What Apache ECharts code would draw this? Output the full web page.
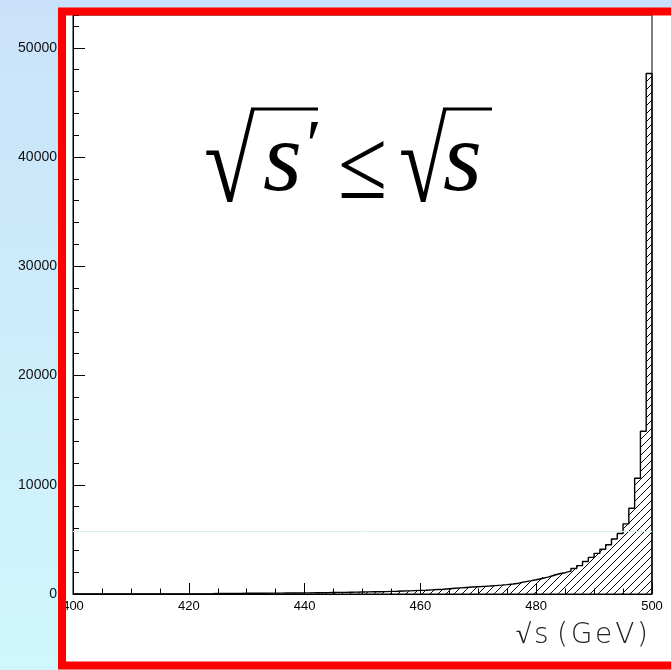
<!DOCTYPE html>
<html>
<head>
<meta charset="utf-8">
<script src="https://cdn.jsdelivr.net/npm/echarts@6/dist/echarts.min.js"></script>
<style>html,body{margin:0;padding:0;}#chart{width:671px;height:670px;}</style>
</head>
<body>
<div id="chart"></div>
<script>
// ---- data ----
var binStart = 400;   // GeV, left edge of first bin
var binWidth = 1;     // GeV
// entries per 1 GeV bin, 400 ... 499
var counts = [
  0,0,0,0,0,0,0,0,0,0,
  0,0,0,0,0,0,0,0,0,0,
  0,0,10,20,50,50,60,60,60,70,
  70,70,70,80,80,80,90,90,90,100,
  100,110,120,130,140,150,150,160,170,180,
  190,200,210,220,240,250,270,290,310,330,
  350,380,410,440,480,520,560,600,640,670,
  700,730,770,810,860,920,990,1110,1200,1300,
  1420,1540,1690,1850,1950,2090,2330,2600,2980,3350,
  3720,4100,4510,5030,5540,6420,7850,10600,14900,47650
];
var xTicks = [400, 420, 440, 460, 480, 500];
var yTicks = [0, 10000, 20000, 30000, 40000, 50000];
var faintLineValue = 5700;
var axisTitle = '\u221A\u200As\u2009\u200A(\u200AG\u200Ae\u200AV\u200A)';

// ---- derived tables ----
var bins = counts.map(function (v, i) {
  var x0 = binStart + i * binWidth;
  return [x0, x0 + binWidth, v];
});
var outline = [[binStart, 0]];
counts.forEach(function (v, i) { outline.push([binStart + i * binWidth, v]); });
var xEnd = binStart + counts.length * binWidth;
outline.push([xEnd, counts[counts.length - 1]]);
outline.push([xEnd, 0]);

// hatch pattern
var hatch = document.createElement('canvas');
hatch.width = 8; hatch.height = 8;
(function () {
  var c = hatch.getContext('2d');
  c.strokeStyle = '#000';
  c.lineWidth = 1;
  c.beginPath();
  c.moveTo(0, 8); c.lineTo(8, 0);
  c.moveTo(-2, 2); c.lineTo(2, -2);
  c.moveTo(6, 10); c.lineTo(10, 6);
  c.stroke();
})();

var chart = echarts.init(document.getElementById('chart'), null, {renderer: 'canvas'});
var SERIF = 'Times New Roman';
function ftxt(x, y, text, size, italic, sx, sy) {
  return {type: 'text', z: 50, x: x, y: y, scaleX: sx || 1, scaleY: sy || 1, style: {
    text: text, fontFamily: SERIF, fontSize: size, fontStyle: italic ? 'italic' : 'normal',
    fill: '#000', verticalAlign: 'middle'}};
}
var option = {
  animation: false,
  grid: {left: 73, right: 19, top: 15, bottom: 76, show: true, borderColor: '#000', borderWidth: 1, backgroundColor: 'transparent'},
  xAxis: {
    type: 'value', min: xTicks[0], max: xTicks[xTicks.length - 1], interval: xTicks[1] - xTicks[0],
    axisLine: {lineStyle: {color: '#000', width: 1}},
    axisTick: {inside: true, length: 11, lineStyle: {color: '#000'}},
    minorTick: {show: true, splitNumber: 4, length: 5.5, lineStyle: {color: '#000'}},
    splitLine: {show: false},
    axisLabel: {color: '#000', fontSize: 13, fontFamily: 'Liberation Sans', margin: 6}
  },
  yAxis: [{
    type: 'value', min: 0, max: 53000, interval: yTicks[1] - yTicks[0],
    axisLine: {show: true, lineStyle: {color: '#000', width: 1}},
    axisTick: {show: true, inside: true, length: 12, lineStyle: {color: '#000'}},
    splitLine: {show: false},
    axisLabel: {color: '#111', fontSize: 14, fontFamily: 'Liberation Sans', margin: 16, showMaxLabel: false,
      formatter: function (v) { return String(v); }}
  }, {
    type: 'value', min: 0, max: 53000, interval: 2000, position: 'left',
    axisLine: {show: false}, axisLabel: {show: false}, splitLine: {show: false},
    axisTick: {show: true, inside: true, length: 6, lineStyle: {color: '#000'}}
  }],
  series: [{
    type: 'custom',
    data: bins,
    encode: {x: [0, 1], y: 2},
    clip: true,
    renderItem: function (params, api) {
      var p0 = api.coord([api.value(0), 0]);
      var p1 = api.coord([api.value(1), api.value(2)]);
      return {
        type: 'rect',
        shape: {x: p0[0], y: p1[1], width: p1[0] - p0[0], height: p0[1] - p1[1]},
        style: {fill: {image: hatch, repeat: 'repeat'}, stroke: null}
      };
    },
    z: 2
  }, {
    type: 'line',
    data: outline,
    step: 'end',
    symbol: 'none',
    lineStyle: {color: '#000', width: 1.4},
    z: 3,
    markLine: {
      silent: true, symbol: 'none', label: {show: false},
      lineStyle: {color: '#d4eef3', width: 1, type: 'solid'},
      data: [{yAxis: faintLineValue}]
    }
  }],
  graphic: [
    {type: 'rect', z: -20, shape: {x: 0, y: 0, width: 671, height: 670},
      style: {fill: new echarts.graphic.LinearGradient(0, 0, 0, 1, [{offset: 0, color: '#cae2f9'}, {offset: 1, color: '#d0f7fd'}])}},
    {type: 'rect', z: -10, shape: {x: 62, y: 11.5, width: 700, height: 654}, style: {fill: '#fff'}},
    // formula  √s′ ≤ √s
    ftxt(204, 170.5, '\u221A', 116, false, 0.8, 1),
    {type: 'line', z: 50, shape: {x1: 251, y1: 109, x2: 318, y2: 109}, style: {stroke: '#000', lineWidth: 3}},
    ftxt(263, 164, 's', 100, true),
    ftxt(302, 150, '\u2032', 70, true),
    ftxt(338, 172, '\u2264', 88, false, 1.02, 1.13),
    ftxt(399, 170.5, '\u221A', 116, false, 0.75, 1),
    {type: 'line', z: 50, shape: {x1: 443, y1: 109, x2: 492, y2: 109}, style: {stroke: '#000', lineWidth: 3}},
    ftxt(443, 164, 's', 100, true),
    // axis title
    {type: 'text', z: 50, x: 648, y: 636, style: {text: axisTitle, fontFamily: 'DejaVu Sans', fontWeight: 200, fontSize: 28,
      fill: '#222', align: 'right', verticalAlign: 'middle'}},
    // red frame
    {type: 'rect', z: 100, shape: {x: 62, y: 11.5, width: 700, height: 654}, style: {fill: null, stroke: '#ff0000', lineWidth: 8}}
  ]
};
chart.setOption(option);
</script>
</body>
</html>
